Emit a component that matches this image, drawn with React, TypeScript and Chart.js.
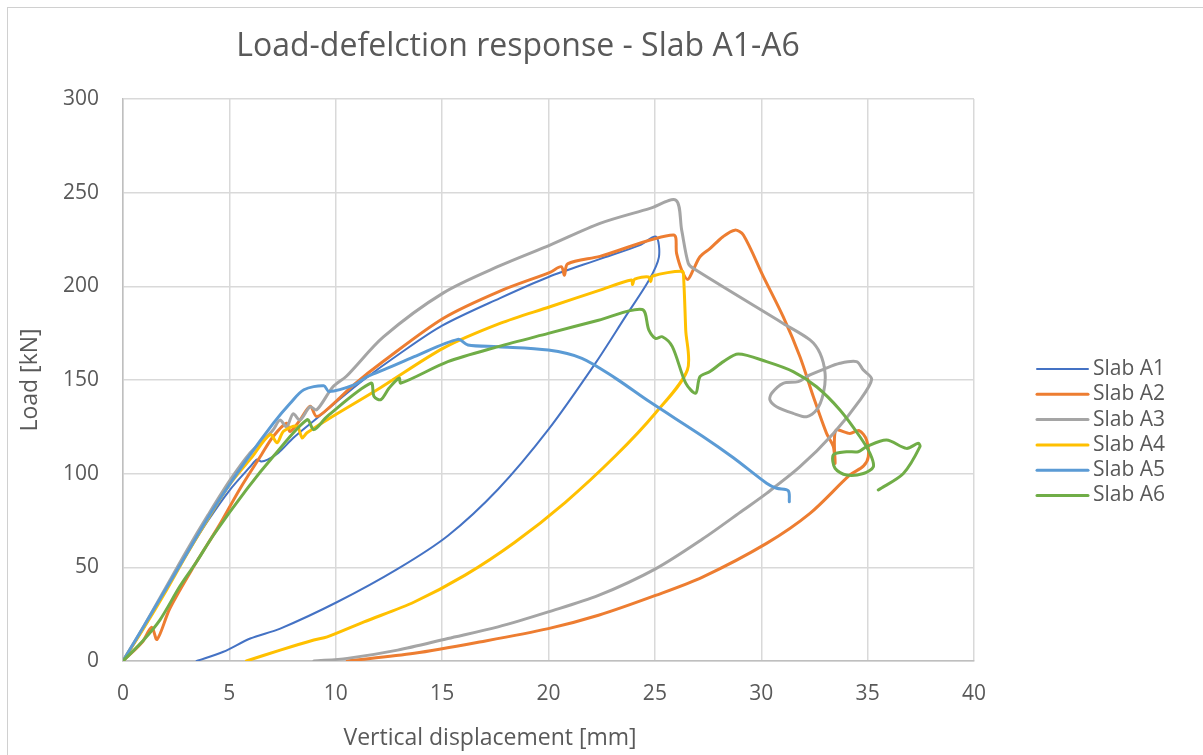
import React, { useEffect, useRef } from "react";
import { Chart, registerables } from "chart.js";

Chart.register(...registerables);

const chartTitle = "Load-defelction response - Slab A1-A6";
const xTitle = "Vertical displacement [mm]";
const yTitle = "Load [kN]";

const seriesNames = ["Slab A1", "Slab A2", "Slab A3", "Slab A4", "Slab A5", "Slab A6"];
const seriesColors = ["#4472C4", "#ED7D31", "#A5A5A5", "#FFC000", "#5B9BD5", "#70AD47"];
const seriesWidths = [2, 3, 3, 3, 3, 3];

const xMin = 0;
const xMax = 40;
const xStep = 5;
const yMin = 0;
const yMax = 300;
const yStep = 50;

const a1X = [0, 1, 2, 3, 4, 5, 6, 6.3, 6.5, 6.8, 7.3, 8, 9, 10, 11.3, 13, 15, 17.7, 20.0, 22.4, 24.3, 25.05, 25.19, 24.72, 23.61, 22.2, 19.99, 17.63, 15.27, 12.91, 10.07, 7.39, 5.98, 4.72, 3.46];
const a1Y = [0, 18, 38, 57, 75, 91, 104, 107.6, 106.5, 107.5, 111, 119, 128.5, 138, 150, 164, 179, 193.6, 205, 214.5, 222, 226.5, 215.6, 203.2, 183.7, 158.9, 123.5, 91.7, 66.9, 49.2, 31.5, 17.3, 12.0, 4.95, 0];

const a2X = [0, 0.9, 1.35, 1.6, 2.2, 3.3, 4.5, 5.5, 6.5, 7.05, 7.69, 7.85, 8.32, 8.8, 9.1, 9.73, 10.83, 12.24, 15.06, 17.72, 20.07, 20.6, 20.75, 20.9, 22.42, 25.87, 26.02, 26.26, 26.54, 26.8, 27.12, 27.6, 28.2, 28.76, 29.16, 30.1, 31.03, 31.82, 32.45, 33.07, 33.39, 33.47, 33.5, 34.17, 34.6, 34.95, 35.03, 34.8, 34.17, 32.29, 30.25, 27.24, 25.03, 22.35, 19.99, 16.84, 13.69, 10.54];
const a2Y = [0, 10, 18, 11.5, 28, 50, 72, 92, 110, 119.7, 126.9, 122.5, 128.6, 136, 130.5, 135.7, 147.3, 160, 183, 197.5, 207.5, 210.5, 206, 212, 216, 227.4, 217.6, 208.7, 203.7, 208.7, 215.8, 220.3, 226.5, 230, 227.4, 205.2, 183.8, 162.4, 141.1, 121.5, 114.4, 105.5, 123, 121.5, 123, 118, 109, 104, 99.3, 78.8, 62.8, 44.8, 35.0, 24.4, 17.3, 10.3, 4.1, 0];

const a3X = [0, 1, 2, 3, 4, 5, 5.97, 6.6, 7.05, 7.38, 7.69, 8.0, 8.32, 8.79, 9.1, 9.87, 10.5, 12.24, 15.06, 17.72, 20.07, 22.42, 24.77, 25.99, 26.26, 26.57, 26.8, 31.03, 32.29, 32.76, 33.0, 32.92, 32.6, 32.13, 31.5, 30.72, 30.41, 30.49, 31.03, 31.74, 32.29, 32.92, 33.7, 34.48, 34.8, 35.19, 34.64, 33.39, 31.82, 30.25, 29.16, 27.24, 25.03, 22.35, 19.99, 17.63, 15.27, 12.91, 10.54, 8.97];
const a3Y = [0, 19, 39, 59, 78, 96, 111, 118, 123.3, 128.6, 125, 132, 128.6, 135.7, 134, 146.4, 152, 173, 196.5, 211, 222, 233.6, 241.6, 246, 230, 212.3, 209.6, 180.2, 171.4, 164.3, 153.6, 142.9, 134, 130.4, 132.2, 135.7, 139.3, 142.9, 148.2, 149.1, 152.7, 155.7, 158.9, 159.8, 155.3, 150.4, 139.3, 121.5, 103.7, 89.5, 80.6, 65.1, 49.2, 35.0, 26.2, 18.2, 12.0, 5.8, 1.4, 0];

const a4X = [0, 1, 2, 3, 4, 5, 6, 6.92, 7.24, 7.55, 8.18, 8.42, 8.65, 9.6, 12.12, 15.06, 17.72, 20.07, 22.42, 23.9, 23.95, 24.05, 24.7, 24.8, 24.9, 26.29, 26.35, 26.45, 26.53, 25.03, 23.14, 20.78, 18.42, 16.06, 13.69, 11.33, 9.6, 8.97, 7.39, 5.8];
const a4Y = [0, 18, 37, 57, 76, 94, 108, 120.9, 116.5, 122.7, 125.3, 119.1, 121.8, 128.8, 146, 167, 180.2, 189.1, 198, 203.4, 201, 203.8, 205, 202.5, 205.5, 208, 205, 176.7, 155.4, 132.4, 109.4, 84.6, 63.4, 45.7, 31.5, 20.9, 12.9, 11.2, 5.8, 0];

const a5X = [0, 1, 2.67, 4.24, 5.82, 7.08, 7.87, 8.5, 9.44, 9.68, 10.86, 11.5, 12.43, 13.69, 15.74, 16.21, 17.63, 19.99, 21.57, 23.14, 24.72, 27.24, 28.69, 30.25, 30.72, 31.27, 31.32];
const a5Y = [0, 19, 51, 81, 107.6, 127.1, 137.7, 144.8, 146.9, 143.9, 147.4, 151.9, 156.3, 162.5, 171.7, 168.7, 167.8, 166, 161.6, 151, 138.6, 120, 108.5, 94.9, 92.2, 90.9, 85];

const a6X = [0, 0.95, 1.74, 2.68, 3.46, 4.24, 5.82, 7.08, 8.65, 8.97, 9.6, 11.65, 11.8, 12.12, 12.51, 12.98, 13.06, 15.27, 17.63, 19.99, 22.35, 24.4, 24.72, 25.03, 25.35, 25.82, 26.45, 26.92, 27.12, 27.59, 28.22, 28.92, 30.25, 31.5, 32.6, 33.7, 34.64, 35.11, 35.27, 34.8, 34.01, 33.47, 33.39, 34.01, 34.56, 34.95, 35.89, 36.83, 37.38, 37.46, 36.68, 35.5];
const a6Y = [0, 11, 22, 40, 53, 67, 91.7, 109.4, 128.8, 123.5, 130.6, 148.3, 141.2, 139.5, 145.7, 151, 148.3, 159.8, 167.8, 174.9, 181.9, 187.6, 176.6, 172.2, 173.1, 167.8, 148.3, 143, 151.8, 154.5, 159.8, 163.9, 159.8, 154.5, 146.4, 134, 119.7, 110.8, 103.7, 100.1, 99.3, 102.8, 110, 111.7, 111.7, 114.4, 118, 113.5, 116.2, 114.4, 100.1, 91.3];

const seriesX = [a1X, a2X, a3X, a4X, a5X, a6X];
const seriesY = [a1Y, a2Y, a3Y, a4Y, a5Y, a6Y];

const TEXT = "#595959";
const FONT = '"Open Sans", "Liberation Sans", sans-serif';

const textPlugin = {
  id: "textPlugin",
  afterDraw(chart: any) {
    const ctx = chart.ctx as CanvasRenderingContext2D;
    const area = chart.chartArea;
    ctx.save();
    ctx.fillStyle = TEXT;
    ctx.textAlign = "center";
    ctx.textBaseline = "middle";
    ctx.font = `32px ${FONT}`;
    ctx.fillText(chartTitle, 518, 47);
    ctx.font = `23px ${FONT}`;
    ctx.fillText(xTitle, 490, 738);
    ctx.save();
    ctx.translate(30, (area.top + area.bottom) / 2);
    ctx.rotate(-Math.PI / 2);
    ctx.fillText(yTitle, 0, 0);
    ctx.restore();
    ctx.textAlign = "left";
    ctx.font = `21px ${FONT}`;
    seriesNames.forEach((name, i) => {
      const y = 369 + i * 25.3;
      ctx.strokeStyle = seriesColors[i];
      ctx.lineWidth = seriesWidths[i];
      ctx.lineCap = "round";
      ctx.beginPath();
      ctx.moveTo(1037, y);
      ctx.lineTo(1088, y);
      ctx.stroke();
      ctx.fillStyle = TEXT;
      ctx.fillText(name, 1093, y);
    });
    ctx.restore();
  },
};

export default function App() {
  const ref = useRef<HTMLCanvasElement | null>(null);
  useEffect(() => {
    if (!ref.current) return;
    const datasets = seriesNames.map((name, i) => ({
      label: name,
      data: seriesX[i].map((x, j) => ({ x, y: seriesY[i][j] })),
      borderColor: seriesColors[i],
      backgroundColor: seriesColors[i],
      borderWidth: seriesWidths[i],
      showLine: true,
      pointRadius: 0,
      tension: 0.3,
      borderCapStyle: "round" as const,
      borderJoinStyle: "round" as const,
      order: seriesNames.length - i,
    }));
    const chart = new Chart(ref.current, {
      type: "scatter",
      data: { datasets },
      plugins: [textPlugin],
      options: {
        responsive: false,
        animation: false,
        events: [],
        layout: { padding: { left: 0, top: 99, right: 229, bottom: 0 } },
        plugins: { legend: { display: false }, title: { display: false }, tooltip: { enabled: false } },
        scales: {
          x: {
            type: "linear",
            min: xMin,
            max: xMax,
            afterFit: (s: any) => { s.height = 94; },
            ticks: { stepSize: xStep, color: TEXT, font: { family: FONT, size: 21 }, padding: 20 },
            grid: { color: "#D9D9D9", lineWidth: 1.5, drawTicks: false },
            border: { color: "#BFBFBF", width: 1.5 },
          },
          y: {
            type: "linear",
            min: yMin,
            max: yMax,
            afterFit: (s: any) => { s.width = 123; },
            ticks: { stepSize: yStep, color: TEXT, font: { family: FONT, size: 21 }, padding: 24 },
            grid: { color: "#D9D9D9", lineWidth: 1.5, drawTicks: false },
            border: { color: "#BFBFBF", width: 1.5 },
          },
        },
      },
    });
    return () => chart.destroy();
  }, []);
  return (
    <div style={{ position: "absolute", left: 0, top: 0, width: 1203, height: 755, background: "#fff", overflow: "hidden" }}>
      <div style={{ position: "absolute", left: 7, top: 7, width: 1300, height: 900, borderLeft: "1px solid #D0D0D0", borderTop: "1px solid #D0D0D0" }} />
      <canvas ref={ref} width={1203} height={755} style={{ position: "absolute", left: 0, top: 0 }} />
    </div>
  );
}
